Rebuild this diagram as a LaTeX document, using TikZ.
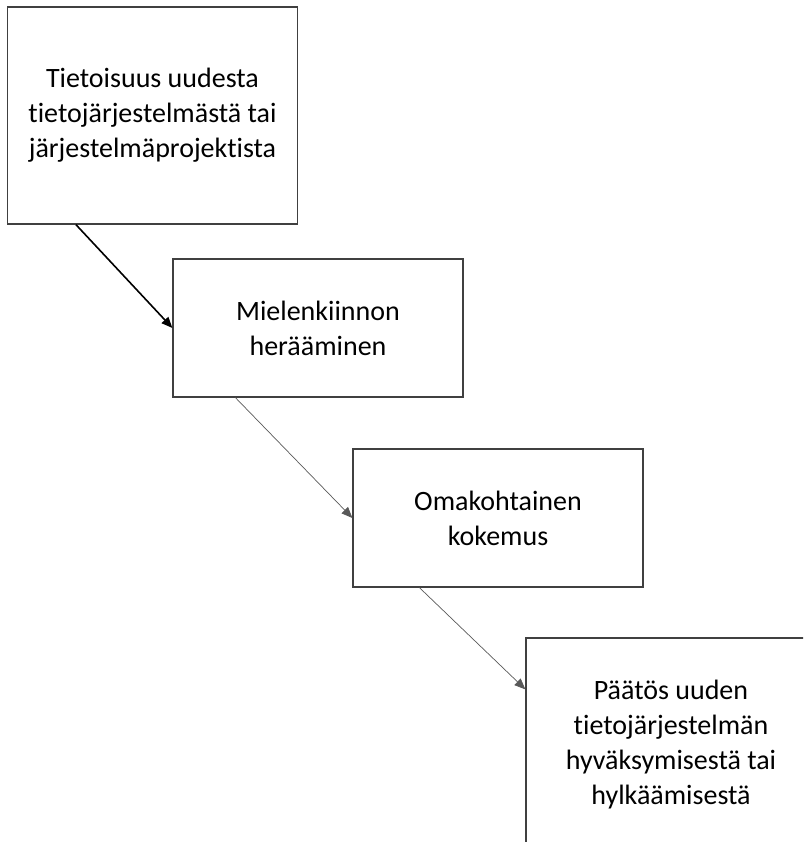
\documentclass[tikz,border=0pt]{standalone}
\usepackage{fontspec}
\setmainfont{Carlito}[Ligatures=NoCommon]
\usetikzlibrary{arrows.meta}

\begin{document}
\begin{tikzpicture}[x=1pt,y=-1pt,
    stage/.style={draw=black!75,line width=1.2pt,minimum width=290pt,
      inner sep=0pt,align=center,font=\fontsize{28}{35}\selectfont},
    flow/.style={-{Triangle[length=11pt,width=9pt]}}]
  \useasboundingbox (0,0) rectangle (803,842);
  \clip (0,0) rectangle (803,842);
  \node[stage,minimum height=217pt] (B1) at (152.5,115.5)
    {Tietoisuus uudesta\\tietojärjestelmästä tai\\järjestelmäprojektista};
  \node[stage,minimum height=138pt] (B2) at (318,328)
    {Mielenkiinnon\\herääminen};
  \node[stage,minimum height=138pt] (B3) at (498,518)
    {Omakohtainen\\kokemus};
  \node[stage,minimum height=214pt] (B4) at (671,745)
    {Päätös uuden\\tietojärjestelmän\\hyväksymisestä tai\\hylkäämisestä};
  \path[flow,line width=1.6pt,black]
    ([xshift=69pt]B1.south west) edge (B2.west);
  \path[flow,line width=0.7pt,black!65]
    ([xshift=63pt]B2.south west) edge (B3.west)
    ([xshift=67pt]B3.south west) edge ([yshift=-52pt]B4.north west);
\end{tikzpicture}
\end{document}
